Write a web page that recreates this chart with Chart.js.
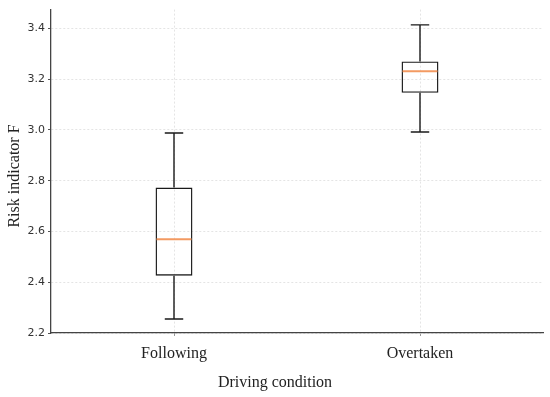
<!DOCTYPE html>
<html lang="en">
<head>
  <meta charset="UTF-8" />
  <title>Risk indicator by driving condition</title>
  <script src="https://cdn.jsdelivr.net/npm/chart.js"></script>
  <style>
    * { margin: 0; padding: 0; box-sizing: border-box; }
    body { background: #fff; }
    .wrap { width: 550px; height: 397px; position: relative; }
  </style>
</head>
<body>
  <div class="wrap"><canvas id="boxChart"></canvas></div>

  <script>
    // box plot values
    const conditions = ['Following', 'Overtaken'];
    const whiskerLow = [2.255, 2.992];
    const q1 = [2.426, 3.146];
    const median = [2.569, 3.231];
    const q3 = [2.773, 3.270];
    const whiskerHigh = [2.988, 3.414];
    const yTicks = [2.2, 2.4, 2.6, 2.8, 3.0, 3.2, 3.4];

    const serif = '"Liberation Serif", "Times New Roman", serif';

    // whiskers, caps, medians and axis titles, placed through the chart scales
    const boxExtras = {
      id: 'boxExtras',
      afterDatasetsDraw(chart) {
        const ctx = chart.ctx;
        const xs = chart.scales.x, ys = chart.scales.y;
        const meta = chart.getDatasetMeta(0);
        ctx.save();
        conditions.forEach((c, i) => {
          const x = xs.getPixelForValue(i);
          const half = meta.data[i].width / 2;
          const cap = half / 2;
          ctx.strokeStyle = '#1a1a1a';
          ctx.lineWidth = 1.4;
          ctx.beginPath();
          ctx.moveTo(x, ys.getPixelForValue(q3[i]));
          ctx.lineTo(x, ys.getPixelForValue(whiskerHigh[i]));
          ctx.moveTo(x, ys.getPixelForValue(q1[i]));
          ctx.lineTo(x, ys.getPixelForValue(whiskerLow[i]));
          ctx.moveTo(x - cap, ys.getPixelForValue(whiskerHigh[i]));
          ctx.lineTo(x + cap, ys.getPixelForValue(whiskerHigh[i]));
          ctx.moveTo(x - cap, ys.getPixelForValue(whiskerLow[i]));
          ctx.lineTo(x + cap, ys.getPixelForValue(whiskerLow[i]));
          ctx.stroke();
          ctx.strokeStyle = '#f39a62';
          ctx.lineWidth = 2;
          ctx.beginPath();
          ctx.moveTo(x - half + 1, ys.getPixelForValue(median[i]));
          ctx.lineTo(x + half - 1, ys.getPixelForValue(median[i]));
          ctx.stroke();
        });
        ctx.fillStyle = '#222';
        ctx.font = '16px ' + serif;
        ctx.textAlign = 'center';
        ctx.textBaseline = 'middle';
        // x title sits centred on the whole figure
        ctx.fillText('Driving condition', chart.width / 2, 383);
        // y title
        ctx.translate(15, 176);
        ctx.rotate(-Math.PI / 2);
        ctx.fillText('Risk indicator F', 0, 0);
        ctx.restore();
      }
    };

    new Chart(document.getElementById('boxChart'), {
      type: 'bar',
      data: {
        labels: conditions,
        datasets: [{
          data: conditions.map((c, i) => [q1[i], q3[i]]),
          backgroundColor: 'rgba(0,0,0,0)',
          borderColor: '#1a1a1a',
          borderWidth: 1.4,
          borderSkipped: false,
          barPercentage: 0.15,
          categoryPercentage: 1
        }]
      },
      options: {
        responsive: true,
        maintainAspectRatio: false,
        animation: false,
        layout: { padding: { top: 6, right: 7, bottom: 0, left: 0 } },
        plugins: { legend: { display: false }, tooltip: { enabled: false } },
        scales: {
          x: {
            offset: true,
            grid: { offset: false, color: '#e4e4e4', tickLength: 3, tickColor: '#999' },
            border: { color: '#444', width: 1.3, dash: [2, 2] },
            ticks: {
              padding: 8,
              color: '#222',
              font: { family: serif, size: 16 }
            },
            afterFit(scale) { scale.height = 64; }
          },
          y: {
            min: 2.2,
            max: 3.474,
            afterBuildTicks(scale) { scale.ticks = yTicks.map(v => ({ value: v })); },
            grid: { color: '#e4e4e4', tickLength: 3, tickColor: '#555' },
            border: { color: '#444', width: 1.3, dash: [2, 2] },
            ticks: {
              padding: 3,
              color: '#333',
              font: { family: '"DejaVu Sans", sans-serif', size: 11 },
              callback: v => v.toFixed(1)
            },
            afterFit(scale) { scale.width = 51; }
          }
        }
      },
      plugins: [boxExtras]
    });
  </script>
</body>
</html>
